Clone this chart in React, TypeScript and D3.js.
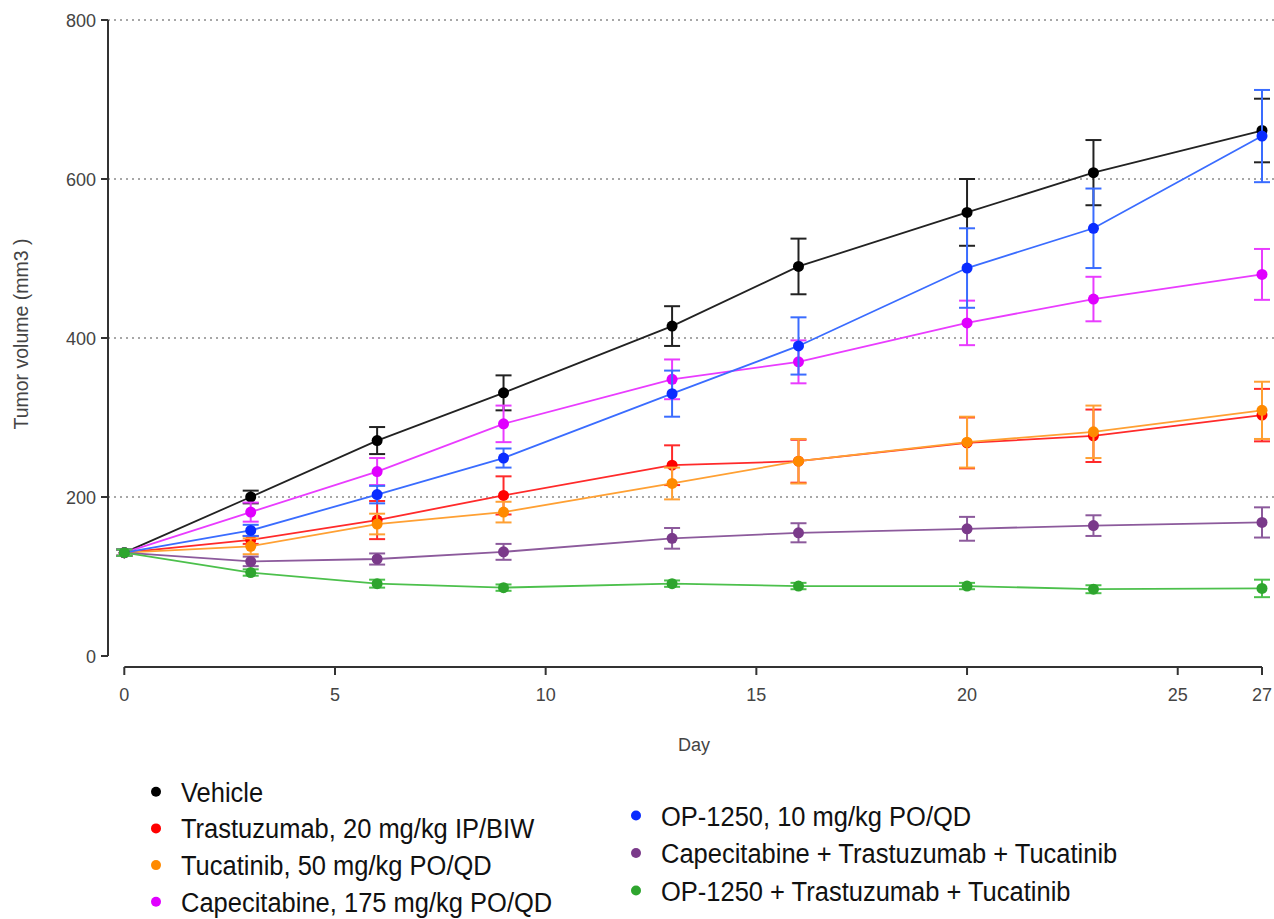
import React from "react";
import * as d3 from "d3";

// Study days on which tumour volume was measured
const days = [0, 3, 6, 9, 13, 16, 20, 23, 27];

// Mean tumour volume (mm3) per group
const vehicle = [130, 200, 271, 331, 415, 490, 558, 608, 661];
const trastuzumab = [130, 146, 171, 202, 240, 245, 268, 277, 303];
const tucatinib = [130, 138, 166, 181, 217, 245, 269, 282, 309];
const capecitabine = [130, 181, 232, 292, 348, 370, 419, 449, 480];
const op1250 = [130, 158, 203, 249, 330, 390, 488, 538, 654];
const capTrasTuc = [130, 119, 122, 131, 148, 155, 160, 164, 168];
const opTrasTuc = [130, 105, 91, 86, 91, 88, 88, 84, 85];

// Error (SEM) per group
const vehicleErr = [4, 8, 17, 22, 25, 35, 42, 41, 40];
const trastuzumabErr = [4, 5, 24, 24, 25, 27, 32, 33, 33];
const tucatinibErr = [4, 10, 13, 13, 20, 28, 32, 33, 36];
const capecitabineErr = [4, 12, 17, 23, 25, 27, 28, 28, 32];
const op1250Err = [4, 7, 11, 12, 29, 36, 50, 50, 58];
const capTrasTucErr = [4, 6, 7, 10, 13, 12, 15, 13, 19];
const opTrasTucErr = [4, 4, 5, 4, 4, 4, 4, 5, 11];

const xTicks = [0, 5, 10, 15, 20, 25, 27];
const yTicks = [0, 200, 400, 600, 800];

type Series = {
  name: string;
  values: number[];
  errors: number[];
  dot: string;
  line: string;
};

const seriesDefs: Series[] = [
  { name: "Vehicle", values: vehicle, errors: vehicleErr, dot: "#000000", line: "#222222" },
  { name: "Capecitabine, 175 mg/kg PO/QD", values: capecitabine, errors: capecitabineErr, dot: "#e000ff", line: "#e93cff" },
  { name: "Trastuzumab, 20 mg/kg IP/BIW", values: trastuzumab, errors: trastuzumabErr, dot: "#ff0000", line: "#ff2a2a" },
  { name: "Tucatinib, 50 mg/kg PO/QD", values: tucatinib, errors: tucatinibErr, dot: "#ff8a00", line: "#ffa033" },
  { name: "OP-1250, 10 mg/kg PO/QD", values: op1250, errors: op1250Err, dot: "#0a2cff", line: "#3a6cff" },
  { name: "Capecitabine + Trastuzumab + Tucatinib", values: capTrasTuc, errors: capTrasTucErr, dot: "#7a3a8a", line: "#8c5a9c" },
  { name: "OP-1250 + Trastuzumab + Tucatinib", values: opTrasTuc, errors: opTrasTucErr, dot: "#2ea52e", line: "#4cc04c" },
];

const legendLeft = [
  "Vehicle",
  "Trastuzumab, 20 mg/kg IP/BIW",
  "Tucatinib, 50 mg/kg PO/QD",
  "Capecitabine, 175 mg/kg PO/QD",
];
const legendRight = [
  "OP-1250, 10 mg/kg PO/QD",
  "Capecitabine + Trastuzumab + Tucatinib",
  "OP-1250 + Trastuzumab + Tucatinib",
];

const W = 1274;
const H = 919;
const FONT = "'Liberation Sans', Arial, Helvetica, sans-serif";

export default function App() {
  const x = d3.scaleLinear().domain([0, 27]).range([124.3, 1262]);
  const y = d3.scaleLinear().domain([0, 800]).range([656, 20]);
  const yAxisX = 108;
  const xAxisY = 667;

  const line = d3
    .line<number>()
    .x((_, i) => x(days[i]))
    .y((v) => y(v));

  const byName = (n: string) => seriesDefs.find((s) => s.name === n)!;
  const cap = 8;

  return (
    <svg
      width={W}
      height={H}
      style={{ position: "absolute", left: 0, top: 0, background: "#fff" }}
      fontFamily={FONT}
    >
      {/* dotted gridlines */}
      {yTicks
        .filter((t) => t > 0)
        .map((t) => (
          <line
            key={"g" + t}
            x1={yAxisX}
            x2={W}
            y1={y(t)}
            y2={y(t)}
            stroke="#8a8a8a"
            strokeWidth={1.3}
            strokeDasharray="2,4"
          />
        ))}

      {/* y axis */}
      <line x1={yAxisX} x2={yAxisX} y1={y(800)} y2={y(0)} stroke="#333" strokeWidth={2} />
      {yTicks.map((t) => (
        <g key={"yt" + t}>
          <line x1={yAxisX - 7} x2={yAxisX} y1={y(t)} y2={y(t)} stroke="#333" strokeWidth={2} />
          <text x={96} y={y(t) + 6.5} textAnchor="end" fontSize={18} fill="#444">
            {t}
          </text>
        </g>
      ))}

      {/* x axis */}
      <line x1={x(0)} x2={x(27)} y1={xAxisY} y2={xAxisY} stroke="#333" strokeWidth={2} />
      {xTicks.map((t) => (
        <g key={"xt" + t}>
          <line x1={x(t)} x2={x(t)} y1={xAxisY} y2={xAxisY + 8} stroke="#333" strokeWidth={2} />
          <text x={x(t)} y={701} textAnchor="middle" fontSize={18} fill="#444">
            {t}
          </text>
        </g>
      ))}

      {/* axis titles */}
      <text x={694} y={751} textAnchor="middle" fontSize={18} fill="#444">
        Day
      </text>
      <text
        transform={`translate(28,334) rotate(-90)`}
        textAnchor="middle"
        fontSize={19.5}
        fill="#444"
      >
        Tumor volume (mm3 )
      </text>

      {/* series */}
      {seriesDefs.map((s) => (
        <g key={s.name}>
          <path d={line(s.values) || ""} fill="none" stroke={s.line} strokeWidth={1.8} />
          {s.values.map((v, i) => {
            const cx = x(days[i]);
            const top = y(v + s.errors[i]);
            const bot = y(v - s.errors[i]);
            return (
              <g key={i} stroke={s.line} strokeWidth={2}>
                <line x1={cx} x2={cx} y1={top} y2={bot} />
                <line x1={cx - cap} x2={cx + cap} y1={top} y2={top} />
                <line x1={cx - cap} x2={cx + cap} y1={bot} y2={bot} />
              </g>
            );
          })}
          {s.values.map((v, i) => (
            <circle key={"c" + i} cx={x(days[i])} cy={y(v)} r={5.5} fill={s.dot} />
          ))}
        </g>
      ))}

      {/* legend */}
      {legendLeft.map((n, i) => (
        <g key={n} transform={`translate(0,${801.7 + i * 36.7})`}>
          <circle cx={156} cy={-10} r={5} fill={byName(n).dot} />
          <text x={181} y={0} fontSize={25.5} fill="#111" transform="scale(1,1.06)" style={{ transformOrigin: "0 0", transformBox: "view-box" }}>
            {n}
          </text>
        </g>
      ))}
      {legendRight.map((n, i) => (
        <g key={n} transform={`translate(0,${825.5 + i * 37.5})`}>
          <circle cx={636} cy={-10} r={5} fill={byName(n).dot} />
          <text x={661} y={0} fontSize={25.5} fill="#111" transform="scale(1,1.06)">
            {n}
          </text>
        </g>
      ))}
    </svg>
  );
}
